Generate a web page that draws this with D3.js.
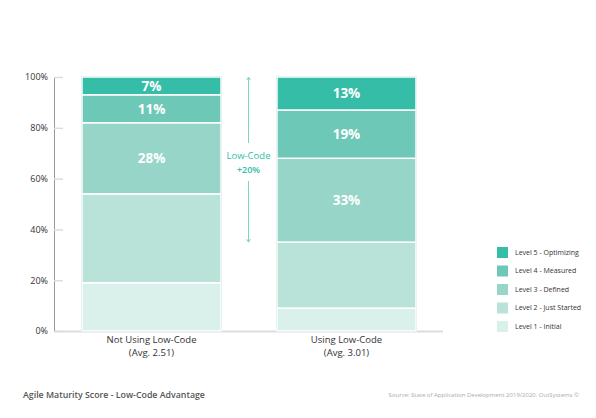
<!DOCTYPE html>
<html>
<head>
<meta charset="utf-8">
<script src="https://cdn.jsdelivr.net/npm/d3@7"></script>
<style>
  body { margin: 0; background: #fff; }
  text { font-family: "Open Sans", sans-serif; }
</style>
</head>
<body>
<div id="chart"></div>
<script>
// Agile maturity score, stacked 100% bars
var groups = ["Not Using Low-Code", "Using Low-Code"];
var groupAvg = ["(Avg. 2.51)", "(Avg. 3.01)"];
var levels = ["Level 1 - Initial", "Level 2 - Just Started", "Level 3 - Defined", "Level 4 - Measured", "Level 5 - Optimizing"];
var notUsing = [19, 35, 28, 11, 7];
var usingLC = [9, 26, 33, 19, 13];
var yTicks = [0, 20, 40, 60, 80, 100];
var colors = ["#daf0eb", "#b9e2d8", "#96d5c8", "#6dc8b7", "#35bda8"];
var showLabel = [false, false, true, true, true];

var svgWidth = 596;
var svgHeight = 418;

var svg = d3.select("#chart")
  .append("svg")
  .attr("width", svgWidth)
  .attr("height", svgHeight);

var yScale = d3.scaleLinear()
  .domain([0, 100])
  .range([331, 77]);

var xScale = d3.scaleBand()
  .domain(groups)
  .range([43, 455])
  .paddingInner(0.287)
  .paddingOuter(0.2);

// stack the data
var table = groups.map((g, i) => {
  var row = { group: g };
  var vals = i === 0 ? notUsing : usingLC;
  levels.forEach((l, j) => { row[l] = vals[j]; });
  return row;
});
var series = d3.stack().keys(levels)(table);

// axes
svg.append("line")
  .attr("x1", 54).attr("x2", 443)
  .attr("y1", yScale(0) + 0.5).attr("y2", yScale(0) + 0.5)
  .attr("stroke", "#ddd").attr("stroke-width", 2);

var leftAxis = d3.axisLeft(yScale)
  .tickValues(yTicks)
  .tickFormat(d => d + "%")
  .tickSize(-9)
  .tickPadding(6);

var yAxis = svg.append("g")
  .attr("transform", "translate(54,0)")
  .call(leftAxis);
yAxis.select(".domain").attr("stroke", "#999").attr("d", `M0.5,${yScale(100)}V${yScale(0)}`);
yAxis.selectAll(".tick line").attr("stroke", "#ddd").attr("stroke-width", 1.5);
yAxis.selectAll(".tick text")
  .attr("fill", "#333")
  .attr("font-size", "9px")
  .attr("font-family", "Open Sans, sans-serif")
  .attr("dy", "0.32em");

// bars
var layer = svg.append("g").selectAll("g")
  .data(series)
  .join("g")
  .attr("fill", (d, i) => colors[i]);

layer.selectAll("rect")
  .data(d => d)
  .join("rect")
  .attr("x", d => xScale(d.data.group))
  .attr("y", d => yScale(d[1]))
  .attr("width", xScale.bandwidth())
  .attr("height", d => yScale(d[0]) - yScale(d[1]))
  .attr("stroke", "#fff")
  .attr("stroke-width", 1.5);

// outline of each bar
svg.append("g").selectAll("rect")
  .data(groups)
  .join("rect")
  .attr("x", d => xScale(d) - 0.5)
  .attr("y", yScale(100) - 0.5)
  .attr("width", xScale.bandwidth() + 1)
  .attr("height", yScale(0) - yScale(100) + 1)
  .attr("fill", "none")
  .attr("stroke", "#e6f3f0")
  .attr("stroke-width", 1);

// segment labels
series.forEach((s, i) => {
  if (!showLabel[i]) return;
  svg.append("g").selectAll("text")
    .data(s)
    .join("text")
    .attr("x", d => xScale(d.data.group) + xScale.bandwidth() / 2)
    .attr("y", d => yScale((d[0] + d[1]) / 2))
    .attr("dy", "0.36em")
    .attr("text-anchor", "middle")
    .attr("fill", "#fff")
    .attr("font-size", "13.5px")
    .attr("font-weight", "700")
    .text(d => (d[1] - d[0]) + "%");
});

// category labels
var cat = svg.append("g").selectAll("text")
  .data(groups)
  .join("text")
  .attr("x", d => xScale(d) + xScale.bandwidth() / 2)
  .attr("y", 343)
  .attr("text-anchor", "middle")
  .attr("fill", "#333")
  .attr("font-size", "9.5px");
cat.append("tspan").text(d => d);
cat.append("tspan")
  .attr("x", d => xScale(d) + xScale.bandwidth() / 2)
  .attr("dy", "1.4em")
  .text((d, i) => groupAvg[i]);

// low-code annotation arrow
var arrowX = 248.5;
var arrowBottom = usingLC[0] + usingLC[1];
var arrowCol = "#7fd6c6";
var ann = svg.append("g");
ann.append("line")
  .attr("x1", arrowX).attr("x2", arrowX)
  .attr("y1", yScale(100)).attr("y2", 143)
  .attr("stroke", arrowCol);
ann.append("line")
  .attr("x1", arrowX).attr("x2", arrowX)
  .attr("y1", 181).attr("y2", yScale(arrowBottom))
  .attr("stroke", arrowCol);
ann.append("path")
  .attr("d", `M${arrowX - 2},${yScale(100) + 3}L${arrowX},${yScale(100)}L${arrowX + 2},${yScale(100) + 3}`)
  .attr("fill", "none").attr("stroke", arrowCol);
ann.append("path")
  .attr("d", `M${arrowX - 2},${yScale(arrowBottom) - 3}L${arrowX},${yScale(arrowBottom)}L${arrowX + 2},${yScale(arrowBottom) - 3}`)
  .attr("fill", "none").attr("stroke", arrowCol);
ann.append("text")
  .attr("x", arrowX).attr("y", 159)
  .attr("text-anchor", "middle")
  .attr("fill", "#35bda8")
  .attr("font-size", "9.5px")
  .text("Low-Code");
ann.append("text")
  .attr("x", arrowX).attr("y", 172.5)
  .attr("text-anchor", "middle")
  .attr("fill", "#35bda8")
  .attr("font-size", "9px")
  .attr("font-weight", "600")
  .text("+20%");

// legend
var legend = svg.append("g").selectAll("g")
  .data(levels.slice().reverse())
  .join("g")
  .attr("transform", (d, i) => `translate(497, ${247 + i * 18.5})`);
legend.append("rect")
  .attr("width", 11).attr("height", 11)
  .attr("fill", (d, i) => colors[levels.length - 1 - i]);
legend.append("text")
  .attr("x", 18).attr("y", 5.5)
  .attr("dy", "0.35em")
  .attr("fill", "#333")
  .attr("font-size", "7px")
  .text(d => d);

// footer
svg.append("text")
  .attr("x", 23).attr("y", 398)
  .attr("fill", "#555")
  .attr("font-size", "8.8px")
  .attr("font-weight", "600")
  .text("Agile Maturity Score - Low-Code Advantage");
svg.append("text")
  .attr("x", 579).attr("y", 397)
  .attr("text-anchor", "end")
  .attr("fill", "#aaa")
  .attr("font-size", "6px")
  .text("Source: State of Application Development 2019/2020. OutSystems ©");
</script>
</body>
</html>
